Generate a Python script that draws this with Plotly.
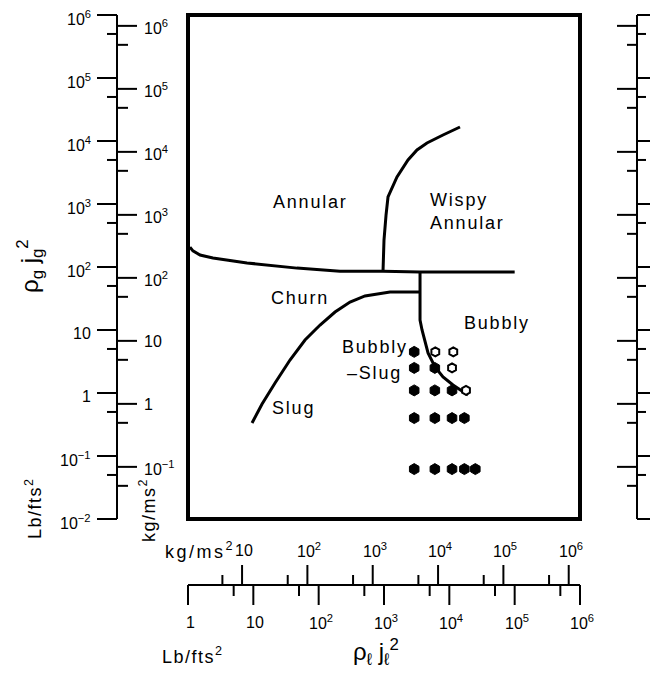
import math
import plotly.graph_objects as go

# ---------------- data (values in Lb/ft s^2) ----------------
annular_churn_x = [1.07, 1.19, 1.53, 2.41, 8.0, 46.6, 212, 966, 3560, 1.0e5]
annular_churn_y = [207, 180, 155, 139, 116, 96, 86, 86, 83, 83]

annular_wispy_x = [966, 1000, 1074, 1152, 1581, 2330, 3200, 4550, 8000, 14560]
annular_wispy_y = [86, 268, 668, 1291, 2685, 4990, 7200, 9290, 12440, 16680]

churn_slug_x = [9.55, 13.6, 21.5, 36.4, 61.8, 105, 178, 302, 512, 1236, 3560]
churn_slug_y = [0.334, 0.668, 1.44, 3.34, 6.94, 12.0, 19.3, 27.8, 34.7, 40.1, 40.1]

bubbly_x = [3560, 3560, 3560, 3820, 4250, 4720, 6040, 8000, 11380, 19300]
bubbly_y = [83, 40.1, 14.4, 10.0, 6.22, 4.32, 2.59, 1.80, 1.34, 0.929]

filled_x = [2900, 2900, 6000, 2900, 6000, 11000, 2900, 6000, 11000, 17000,
            2900, 6000, 11000, 17000, 25000]
filled_y = [4.5, 2.5, 2.5, 1.1, 1.1, 1.1, 0.4, 0.4, 0.4, 0.4,
            0.062, 0.062, 0.062, 0.062, 0.062]
open_x = [6100, 11500, 11000, 18000]
open_y = [4.5, 4.5, 2.5, 1.1]

regions = ["Annular", "Wispy<br>Annular", "Churn", "Bubbly", "Bubbly", "\u2013Slug", "Slug"]
region_x = [73.7, 4720, 51.8, 53700, 728, 703, 40.5]
region_y = [1077, 774, 32.2, 12.9, 5.37, 2.07, 0.578]
region_anchor = ["center", "left", "center", "center", "center", "center", "center"]

lb_major = [1e-2, 1e-1, 1, 10, 1e2, 1e3, 1e4, 1e5, 1e6]
lb_major_lab = ["10<sup>\u22122</sup>", "10<sup>\u22121</sup>", "1", "10", "10<sup>2</sup>",
                "10<sup>3</sup>", "10<sup>4</sup>", "10<sup>5</sup>", "10<sup>6</sup>"]
lb_minor = [5e-2, 5e-1, 5, 50, 5e2, 5e3, 5e4, 5e5]
kg_major = [1e-1, 1, 10, 1e2, 1e3, 1e4, 1e5, 1e6]
kg_major_lab = ["10<sup>\u22121</sup>", "1", "10", "10<sup>2</sup>", "10<sup>3</sup>",
                "10<sup>4</sup>", "10<sup>5</sup>", "10<sup>6</sup>"]
kg_minor = [5e-2, 5e-1, 5, 50, 5e2, 5e3, 5e4, 5e5]

x_lb_major = [1, 10, 1e2, 1e3, 1e4, 1e5, 1e6]
x_lb_lab = ["1", "10", "10<sup>2</sup>", "10<sup>3</sup>", "10<sup>4</sup>", "10<sup>5</sup>", "10<sup>6</sup>"]
x_lb_minor = [5, 50, 5e2, 5e3, 5e4, 5e5]
x_kg_major = [10, 1e2, 1e3, 1e4, 1e5, 1e6]
x_kg_lab = ["10", "10<sup>2</sup>", "10<sup>3</sup>", "10<sup>4</sup>", "10<sup>5</sup>", "10<sup>6</sup>"]
x_kg_minor = [5, 50, 5e2, 5e3, 5e4, 5e5]

KG_PER_LB = 1.488  # 1 lb/(ft s^2) = 1.488 kg/(m s^2)

# ---------------- layout geometry (pixels) ----------------
W, H = 650, 681
BOX_L, BOX_R, BOX_T, BOX_B = 188, 580, 15, 519
XDEC = (BOX_R - BOX_L) / 6.0
YDEC = (BOX_B - BOX_T) / 8.0
LAX, RAX, BAX = 117, 637, 585
FONT = "Liberation Sans"


def px_x(v):
    return BOX_L + math.log10(v) * XDEC


def px_y(v):
    return BOX_B - (math.log10(v) + 2) * YDEC


def sp(t, ls=1.8):
    return '<span style="letter-spacing:%spx">%s</span>' % (ls, t)


segx, segy = [], []


def seg(x0, y0, x1, y1):
    segx.extend([x0, x1, None])
    segy.extend([y0, y1, None])


# left axis
seg(LAX, BOX_T, LAX, BOX_B)
for v in lb_major:
    seg(LAX - 20, px_y(v), LAX, px_y(v))
for v in lb_minor:
    seg(LAX - 10, px_y(v), LAX, px_y(v))
for v in kg_major:
    y = px_y(v / KG_PER_LB)
    seg(LAX, y, LAX + 20, y)
for v in kg_minor:
    y = px_y(v / KG_PER_LB)
    seg(LAX, y, LAX + 11, y)
# right axis
seg(RAX, BOX_T, RAX, BOX_B)
for v in lb_major:
    seg(RAX, px_y(v), RAX + 14, px_y(v))
for v in lb_minor:
    seg(RAX, px_y(v), RAX + 9, px_y(v))
for v in kg_major:
    y = px_y(v / KG_PER_LB)
    seg(RAX - 20, y, RAX, y)
for v in kg_minor:
    y = px_y(v / KG_PER_LB)
    seg(RAX - 10, y, RAX, y)
# bottom axis
seg(BOX_L, BAX, BOX_R, BAX)
for v in x_lb_major:
    seg(px_x(v), BAX, px_x(v), BAX + 20)
for v in x_lb_minor:
    seg(px_x(v), BAX, px_x(v), BAX + 11)
for v in x_kg_major:
    x = px_x(v / KG_PER_LB)
    seg(x, BAX, x, BAX - 20)
for v in x_kg_minor:
    x = px_x(v / KG_PER_LB)
    seg(x, BAX, x, BAX - 10)

fig = go.Figure()

curve_style = dict(color="black", width=3)
for cx, cy in [(annular_churn_x, annular_churn_y), (annular_wispy_x, annular_wispy_y),
               (churn_slug_x, churn_slug_y), (bubbly_x, bubbly_y)]:
    fig.add_trace(go.Scatter(x=cx, y=cy, mode="lines", line=curve_style,
                             xaxis="x", yaxis="y", showlegend=False, hoverinfo="skip"))

fig.add_trace(go.Scatter(x=filled_x, y=filled_y, mode="markers",
                         marker=dict(symbol="hexagon", size=11, color="black",
                                     line=dict(color="black", width=1)),
                         xaxis="x", yaxis="y", showlegend=False, cliponaxis=False))
fig.add_trace(go.Scatter(x=open_x, y=open_y, mode="markers",
                         marker=dict(symbol="hexagon", size=9, color="white",
                                     line=dict(color="black", width=2)),
                         xaxis="x", yaxis="y", showlegend=False, cliponaxis=False))

fig.add_trace(go.Scatter(x=segx, y=segy, mode="lines", line=dict(color="black", width=2),
                         xaxis="x2", yaxis="y2", showlegend=False, hoverinfo="skip"))

ann = []
tf = dict(family=FONT, size=16, color="black")
for v, lab in zip(lb_major, lb_major_lab):
    ann.append(dict(x=LAX - 24, y=px_y(v) + 3, text=lab, xanchor="right", yanchor="middle",
                    xref="x2", yref="y2", showarrow=False, font=tf))
for v, lab in zip(kg_major, kg_major_lab):
    ann.append(dict(x=LAX + 25, y=px_y(v / KG_PER_LB) + 1, text=lab, xanchor="left",
                    yanchor="middle", xref="x2", yref="y2", showarrow=False, font=tf))
for v, lab in zip(x_lb_major, x_lb_lab):
    ann.append(dict(x=px_x(v) + 2, y=622, text=lab, xanchor="center", yanchor="middle",
                    xref="x2", yref="y2", showarrow=False, font=tf))
for v, lab in zip(x_kg_major, x_kg_lab):
    ann.append(dict(x=px_x(v / KG_PER_LB) + 2, y=550, text=lab, xanchor="center",
                    yanchor="middle", xref="x2", yref="y2", showarrow=False, font=tf))

lf = dict(family=FONT, size=18, color="black")
for t, rx, ry, an in zip(regions, region_x, region_y, region_anchor):
    ann.append(dict(x=math.log10(rx), y=math.log10(ry), text=sp(t), xanchor=an,
                    yanchor="middle", align="left", xref="x", yref="y",
                    showarrow=False, font=lf))

# unit labels and axis titles
ann.append(dict(x=200, y=550, text=sp("kg/ms<sup>2</sup>", 2.5), xref="x2", yref="y2",
                showarrow=False, font=lf, xanchor="center", yanchor="middle"))
ann.append(dict(x=193, y=655, text=sp("Lb/fts<sup>2</sup>", 1.5), xref="x2", yref="y2",
                showarrow=False, font=lf, xanchor="center", yanchor="middle"))
ann.append(dict(x=33, y=508, text=sp("Lb/fts<sup>2</sup>", 1.5), xref="x2", yref="y2",
                showarrow=False, font=lf, textangle=-90, xanchor="center", yanchor="middle"))
ann.append(dict(x=147, y=510, text=sp("kg/ms<sup>2</sup>", 1.5), xref="x2", yref="y2",
                showarrow=False, font=lf, textangle=-90, xanchor="center", yanchor="middle"))
big = dict(family=FONT, size=24, color="black")
ann.append(dict(x=30, y=266, text="\u03c1<sub>g</sub> j<sub>g</sub><sup>2</sup>", xref="x2",
                yref="y2", showarrow=False, font=big, textangle=-90,
                xanchor="center", yanchor="middle"))
ann.append(dict(x=376, y=652, text="\u03c1<sub>\u2113</sub> j<sub>\u2113</sub><sup>2</sup>",
                xref="x2", yref="y2", showarrow=False, font=big,
                xanchor="center", yanchor="middle"))

fig.update_layout(
    width=W, height=H, margin=dict(l=0, r=0, t=0, b=0),
    paper_bgcolor="white", plot_bgcolor="rgba(0,0,0,0)",
    showlegend=False,
    xaxis=dict(type="log", range=[0, 6], domain=[BOX_L / W, BOX_R / W], visible=False,
               fixedrange=True),
    yaxis=dict(type="log", range=[-2, 6], domain=[1 - BOX_B / H, 1 - BOX_T / H],
               visible=False, fixedrange=True),
    xaxis2=dict(range=[0, W], domain=[0, 1], visible=False, fixedrange=True, anchor="y2"),
    yaxis2=dict(range=[H, 0], domain=[0, 1], visible=False, fixedrange=True, anchor="x2"),
    shapes=[dict(type="rect", xref="x2", yref="y2", x0=BOX_L, x1=BOX_R, y0=BOX_T, y1=BOX_B,
                 line=dict(color="black", width=4))],
    annotations=ann,
)

fig.write_html("out.html")
